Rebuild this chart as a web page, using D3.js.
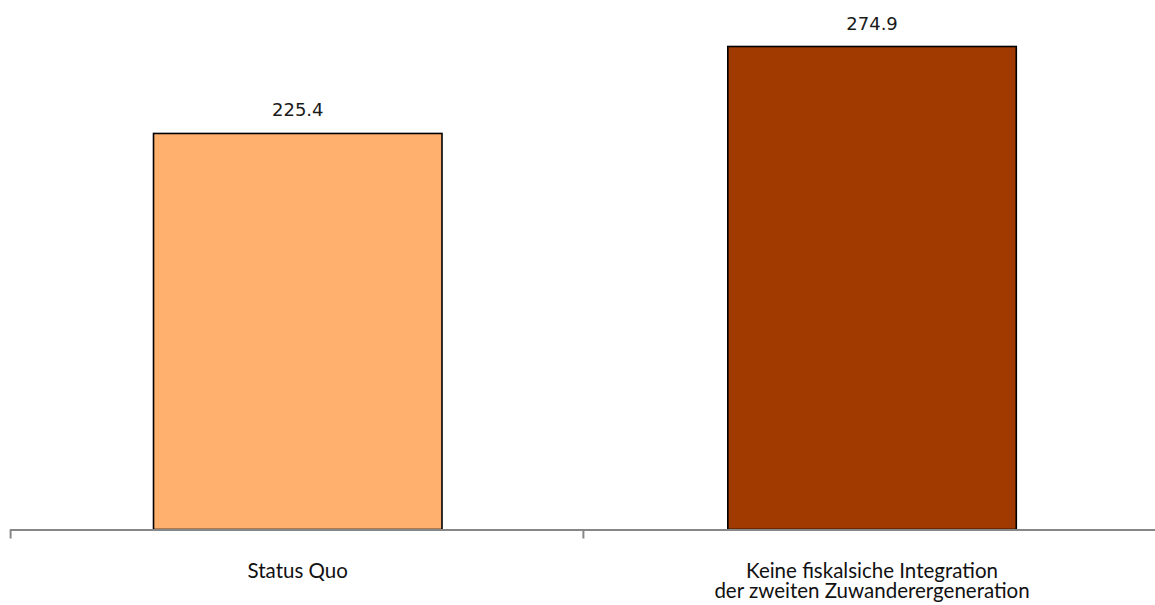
<!DOCTYPE html>
<html>
<head>
<meta charset="utf-8">
<script src="https://cdn.jsdelivr.net/npm/d3@7"></script>
<style>
  html, body { margin: 0; padding: 0; background: #fff; }
  svg { display: block; }
</style>
</head>
<body>
<svg id="chart" width="1155" height="605"></svg>
<script>
const categories = [
  ["Status Quo"],
  ["Keine fiskalsiche Integration", "der zweiten Zuwanderergeneration"]
];
const values = [225.4, 274.9];
const barColors = ["#FFB06E", "#A03A00"];
const valueLabels = ["225.4", "274.9"];

const svg = d3.select("#chart");
const W = 1155, H = 605;
const baseY = 529.5;

const keys = categories.map((c, i) => i);
const x = d3.scaleBand().domain(keys).range([10, 1159.8]).paddingInner(0.4977).paddingOuter(0.2499);
const y = d3.scaleLinear().domain([0, 300]).range([baseY, baseY - 527.1]);

// bars
svg.append("g").selectAll("rect")
  .data(values)
  .join("rect")
  .attr("x", (d, i) => x(i))
  .attr("y", d => y(d))
  .attr("width", x.bandwidth())
  .attr("height", d => y(0) - y(d))
  .attr("fill", (d, i) => barColors[i])
  .attr("stroke", "#000")
  .attr("stroke-width", 1.6);

// value labels
svg.append("g").selectAll("text")
  .data(values)
  .join("text")
  .attr("x", (d, i) => x(i) + x.bandwidth() / 2)
  .attr("y", d => y(d) - 17)
  .attr("text-anchor", "middle")
  .attr("font-family", "DejaVu Sans")
  .attr("font-size", 18)
  .attr("fill", "#1a1a1a")
  .text((d, i) => valueLabels[i]);

// axis line
const step = x.step();
const r0 = x.range()[0];
svg.append("line")
  .attr("x1", r0).attr("x2", W + 2)
  .attr("y1", baseY + 0.5).attr("y2", baseY + 0.5)
  .attr("stroke", "#878787").attr("stroke-width", 2.2);

// ticks at category boundaries
const centers = keys.map(k => x(k) + x.bandwidth() / 2);
const boundaries = [centers[0] - step / 2, centers[0] + step / 2 - 1.5, centers[1] + step / 2];
svg.append("g").selectAll("line")
  .data(boundaries)
  .join("line")
  .attr("x1", d => d).attr("x2", d => d)
  .attr("y1", baseY).attr("y2", baseY + 9)
  .attr("stroke", "#878787").attr("stroke-width", 2);

// category labels
const catG = svg.append("g");
categories.forEach((lines, i) => {
  lines.forEach((ln, j) => {
    catG.append("text")
      .attr("text-anchor", "middle")
      .attr("font-family", "Lato")
      .attr("font-size", 20.5)
      .attr("fill", "#111")
      .attr("x", centers[i])
      .attr("y", 577.5 + j * 20)
      .text(ln);
  });
});
</script>
</body>
</html>
